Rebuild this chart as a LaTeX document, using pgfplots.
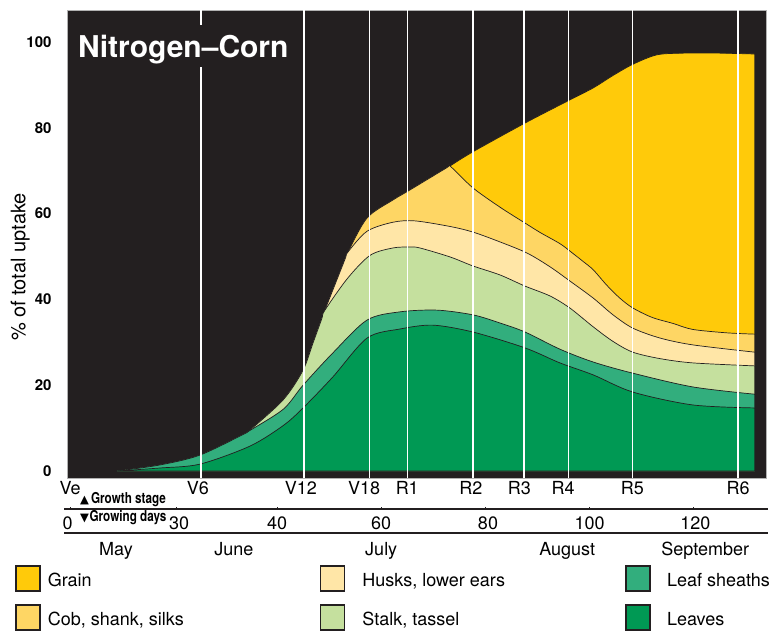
\documentclass[border=0pt]{standalone}
\usepackage{pgfplots}
\pgfplotsset{compat=1.18}
\usepackage{fontspec}
\setmainfont{TeX Gyre Heros}
\newfontfamily\symfont{DejaVu Sans}
\usepackage{graphicx}
\definecolor{bgblack}{HTML}{231F20}
\definecolor{grain}{HTML}{FFCA0A}
\definecolor{cob}{HTML}{FED664}
\definecolor{husk}{HTML}{FFE6A7}
\definecolor{stalk}{HTML}{C5E09E}
\definecolor{sheath}{HTML}{32AE7D}
\definecolor{leaves}{HTML}{009954}
\newcommand{\lent}[3]{\makebox[#1][l]{\hspace{#2}\raisebox{-3.5pt}{#3}}}
\begin{document}
\begin{tikzpicture}
\path[use as bounding box] (-67pt,-153pt) rectangle (712pt,478pt);
\begin{axis}[
  at={(0pt,0pt)}, anchor=south west,
  scale only axis, width=699pt, height=468pt,
  xmin=-0.31, xmax=133.86, ymin=-1.63, ymax=107.46,
  clip=false,
  axis background/.style={fill=bgblack},
  axis line style={draw=gray!60, line width=0.6pt},
  major tick length=0pt,
  ytick={0,20,40,60,80,100},
  /pgf/number format/assume math mode=true,
  yticklabel style={font=\bfseries\fontsize{15}{18}\selectfont, anchor=east, xshift=-12pt},
  xtick={0.27,24.8,44.6,56.7,65.0,77.2,86.5,94.9,108.2,128.5},
  xticklabels={Ve,V6,V12,V18,R1,R2,R3,R4,R5,R6},
  xticklabel style={font=\fontsize{18}{22}\selectfont},
  ylabel={\% of total uptake},
  every axis y label/.style={at={(axis description cs:-0.067,0.451)}, rotate=90, anchor=center, font=\fontsize{20}{24}\selectfont},
  legend columns=3,
  legend cell align=left,
  legend style={at={(axis description cs:-0.0741,-0.1863)}, anchor=north west,
    draw=none, fill=none, inner sep=0pt, outer sep=0pt,
    font=\fontsize{18}{22}\selectfont, row sep=12.4pt, nodes={inner sep=0pt}},
  legend image code/.code={\draw[#1, draw=bgblack, line width=1.6pt] (0pt,-12.5pt) rectangle (24pt,12.5pt);},
]
% Grain (total uptake)
\addplot[smooth, fill=grain, draw=bgblack, line width=0.7pt, forget plot] coordinates {
(9.3,0)(17.5,1.4)(25.2,3.7)(33.8,8.7)(34.6,9.3)(41.2,16.6)(45.0,23.5)(46.9,29.8)(48.6,35.5)(49.2,37.5)(53.0,49.2)(53.6,51.0)(57.3,59.0)(62.3,63.2)(65.5,65.5)(72.6,70.7)(73.2,71.1)(77.6,74.4)(87.6,81.1)(96.2,86.5)(100.7,89.3)(104.5,92.2)(108.3,94.8)(112.9,97.0)(118.0,97.4)(125.0,97.4)(131.7,97.2)
} \closedcycle;
% Cob, shank, silks
\addplot[smooth, fill=cob, draw=bgblack, line width=0.7pt, forget plot] coordinates {
(9.3,0)(17.5,1.4)(25.2,3.7)(33.8,8.7)(34.6,9.3)(41.2,16.6)(45.0,23.5)(46.9,29.8)(48.6,35.5)(49.2,37.5)(53.0,49.2)(53.6,51.0)(57.3,59.0)(62.3,63.2)(65.5,65.5)(72.6,70.7)(73.2,71.1)(77.6,66.0)(82.8,61.5)(87.6,57.8)(90.5,55.6)(94.3,53.0)(96.5,51.0)(98.8,48.8)(100.7,46.9)(103.3,43.3)(105.8,40.3)(108.3,38.0)(112.0,35.8)(116.0,34.4)(119.8,33.0)(126.4,32.2)(131.7,31.9)
} \closedcycle;
% Husks, lower ears
\addplot[smooth, fill=husk, draw=bgblack, line width=0.7pt, forget plot] coordinates {
(9.3,0)(17.5,1.4)(25.2,3.7)(33.8,8.7)(34.6,9.3)(41.2,16.6)(45.0,23.5)(46.9,29.8)(48.6,35.5)(49.2,37.5)(53.0,49.2)(53.6,51.0)(57.3,55.9)(62.3,58.0)(66.5,58.3)(73.2,57.0)(77.6,55.7)(82.8,53.4)(88.0,50.8)(92.4,47.6)(96.2,44.3)(100.7,40.3)(104.5,36.4)(108.3,33.3)(113.5,31.0)(119.8,29.4)(131.7,27.7)
} \closedcycle;
% Stalk, tassel
\addplot[smooth, fill=stalk, draw=bgblack, line width=0.7pt, forget plot] coordinates {
(9.3,0)(17.5,1.4)(25.2,3.7)(33.8,8.7)(34.6,9.3)(41.2,16.6)(45.0,23.5)(46.9,29.8)(48.6,35.5)(49.2,37.5)(53.6,45.0)(57.9,50.3)(62.3,52.0)(65.5,52.2)(67.4,52.0)(73.2,49.9)(77.6,47.8)(82.8,45.7)(87.6,43.1)(92.4,40.8)(96.2,38.0)(100.7,33.6)(104.5,30.2)(108.3,27.7)(113.5,26.2)(119.8,25.2)(131.7,24.5)
} \closedcycle;
% Leaf sheaths
\addplot[smooth, fill=sheath, draw=bgblack, line width=0.7pt, forget plot] coordinates {
(9.3,0)(17.5,1.4)(25.2,3.7)(33.8,8.7)(34.6,9.3)(41.2,14.4)(45.0,20.0)(50.7,27.5)(57.3,35.2)(63.6,37.1)(70.7,37.5)(77.6,36.4)(82.8,34.5)(87.6,32.4)(94.3,28.4)(100.7,25.4)(108.3,22.8)(119.8,19.6)(131.7,17.9)
} \closedcycle;
% Leaves
\addplot[smooth, fill=leaves, draw=bgblack, line width=0.7pt, forget plot] coordinates {
(9.3,0)(17.5,0.7)(25.2,1.6)(34.8,5.8)(41.2,10.6)(45.0,14.7)(50.7,21.9)(57.3,31.0)(63.6,33.1)(69.9,34.0)(77.6,32.4)(87.6,28.7)(94.3,25.2)(100.7,22.4)(108.3,18.4)(119.8,15.4)(131.7,14.7)
} \closedcycle;
% growth stage lines
\pgfplotsinvokeforeach{25.4,45.2,57.7,65.1,77.6,87.4,95.9,108.3,128.5}{
  \addplot[white, line width=1.3pt, forget plot] coordinates {(#1,-1.63) (#1,107.46)};
}
% legend
\addlegendimage{fill=grain}
\addlegendentry{\lent{279pt}{7pt}{Grain}}
\addlegendimage{fill=husk}
\addlegendentry{\lent{280pt}{17pt}{Husks, lower ears}}
\addlegendimage{fill=sheath}
\addlegendentry{\lent{120pt}{16pt}{Leaf sheaths}}
\addlegendimage{fill=cob}
\addlegendentry{\lent{279pt}{7pt}{Cob, shank, silks}}
\addlegendimage{fill=stalk}
\addlegendentry{\lent{280pt}{17pt}{Stalk, tassel}}
\addlegendimage{fill=leaves}
\addlegendentry{\lent{120pt}{16pt}{Leaves}}
% title
\node[anchor=base west, fill=bgblack, inner xsep=3pt, inner ysep=0pt, text height=32pt, text depth=10pt, text=white, font=\bfseries\fontsize{30}{36}\selectfont] at (axis cs:1.23,96.5) {Nitrogen\textendash Corn};
% growing days scale
\draw[line width=1.2pt, bgblack] (axis cs:-0.88,-8.86) -- (axis cs:134.24,-8.86);
\draw[line width=1.2pt, bgblack] (axis cs:-0.88,-14.45) -- (axis cs:134.24,-14.45);
\pgfplotsinvokeforeach{0.3,20.8,40,60,80,100,120}{
  \draw[line width=1pt, bgblack] (axis cs:#1,-8.86) -- (axis cs:#1,-8.3);
}
\node[anchor=base west, inner sep=0pt, font=\bfseries\fontsize{15}{18}\selectfont] at (axis cs:2.19,-7.69) {{\symfont\fontsize{11.5}{12}\selectfont ▲}\hspace{2pt}\scalebox{0.78}[1]{Growth stage}};
\node[anchor=base west, inner sep=0pt, font=\bfseries\fontsize{15}{18}\selectfont] at (axis cs:2.19,-11.66) {{\symfont\fontsize{11.5}{12}\selectfont ▼}\hspace{0.5pt}\scalebox{0.78}[1]{Growing days}};
\node[anchor=base, inner sep=0pt, font=\fontsize{18}{22}\selectfont] at (axis cs:-0.2,-13.75) {0};
\node[anchor=base, inner sep=0pt, font=\fontsize{18}{22}\selectfont] at (axis cs:21.2,-13.75) {30};
\node[anchor=base, inner sep=0pt, font=\fontsize{18}{22}\selectfont] at (axis cs:40,-13.75) {40};
\node[anchor=base, inner sep=0pt, font=\fontsize{18}{22}\selectfont] at (axis cs:60,-13.75) {60};
\node[anchor=base, inner sep=0pt, font=\fontsize{18}{22}\selectfont] at (axis cs:80.5,-13.75) {80};
\node[anchor=base, inner sep=0pt, font=\fontsize{18}{22}\selectfont] at (axis cs:100,-13.75) {100};
\node[anchor=base, inner sep=0pt, font=\fontsize{18}{22}\selectfont] at (axis cs:120.3,-13.75) {120};
% months
\node[anchor=base, inner sep=0pt, font=\fontsize{18}{22}\selectfont] at (axis cs:9.1,-19.58) {May};
\node[anchor=base, inner sep=0pt, font=\fontsize{18}{22}\selectfont] at (axis cs:31.7,-19.58) {June};
\node[anchor=base, inner sep=0pt, font=\fontsize{18}{22}\selectfont] at (axis cs:60.0,-19.58) {July};
\node[anchor=base, inner sep=0pt, font=\fontsize{18}{22}\selectfont] at (axis cs:95.7,-19.58) {August};
\node[anchor=base, inner sep=0pt, font=\fontsize{18}{22}\selectfont] at (axis cs:122.2,-19.58) {September};
\end{axis}
\end{tikzpicture}
\end{document}
